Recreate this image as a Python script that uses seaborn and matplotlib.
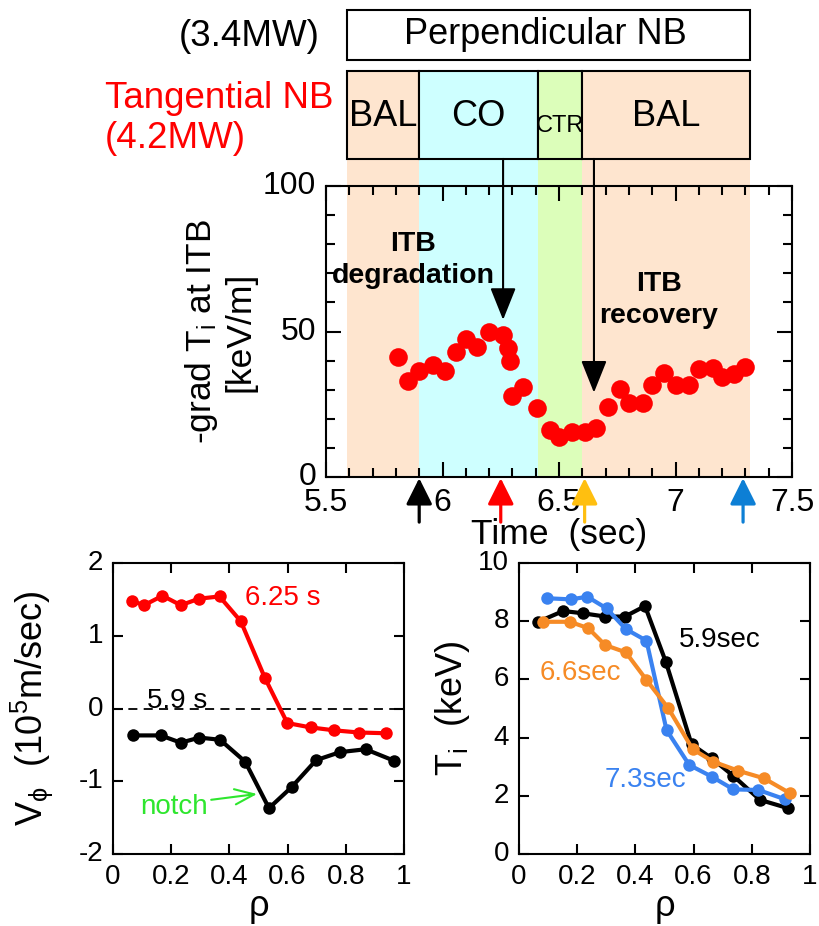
import matplotlib
matplotlib.use("Agg")
import matplotlib.pyplot as plt
import seaborn as sns
from matplotlib.patches import Rectangle
from matplotlib.ticker import MultipleLocator, FuncFormatter

# ---------------- data ----------------
# ITB gradient time trace
time_s = [5.81, 5.85, 5.90, 5.96, 6.01, 6.06, 6.10, 6.15, 6.20, 6.26, 6.28, 6.29,
          6.30, 6.345, 6.405, 6.46, 6.50, 6.555, 6.61, 6.66, 6.71, 6.76, 6.80,
          6.86, 6.90, 6.95, 7.00, 7.06, 7.10, 7.16, 7.20, 7.25, 7.30]
grad_ti = [41.2, 33.0, 36.4, 38.5, 36.4, 43.0, 47.4, 44.7, 49.8, 48.8, 44.3, 40.0,
           28.0, 30.8, 23.7, 16.2, 13.8, 15.6, 15.5, 17.0, 24.0, 30.2, 25.4,
           25.4, 31.6, 35.7, 31.6, 31.6, 37.1, 37.5, 34.4, 35.4, 37.8]

# tangential NB phases
phase_edges = [5.59, 5.90, 6.41, 6.60, 7.32]
phase_names = ["BAL", "CO", "CTR", "BAL"]
phase_colors = ["#FEE5CF", "#CEFFFF", "#DCFEBA", "#FEE5CF"]

# NB switching arrows (time, tip value)
switch_t = [6.26, 6.65]
switch_tip = [54.0, 29.0]

# profile times marked below the time axis
profile_t = [5.90, 6.25, 6.61, 7.29]
profile_colors = ["black", "#FF0000", "#FFBF10", "#0D7FD5"]

# toroidal rotation profiles
rho_v625 = [0.064, 0.107, 0.170, 0.233, 0.296, 0.366, 0.439, 0.522, 0.599, 0.679, 0.760, 0.845, 0.938]
v_625 = [1.48, 1.42, 1.55, 1.42, 1.51, 1.54, 1.20, 0.42, -0.20, -0.26, -0.30, -0.33, -0.34]
rho_v59 = [0.070, 0.164, 0.233, 0.297, 0.368, 0.454, 0.536, 0.614, 0.698, 0.780, 0.868, 0.967]
v_59 = [-0.37, -0.37, -0.47, -0.40, -0.43, -0.73, -1.37, -1.08, -0.71, -0.60, -0.56, -0.72]

# ion temperature profiles
rho_t59 = [0.066, 0.152, 0.221, 0.296, 0.364, 0.433, 0.505, 0.593, 0.662, 0.737, 0.828, 0.926]
ti_59 = [7.98, 8.35, 8.27, 8.16, 8.16, 8.52, 6.59, 3.77, 3.29, 2.68, 1.86, 1.57]
rho_t66 = [0.083, 0.175, 0.238, 0.296, 0.367, 0.438, 0.513, 0.597, 0.668, 0.754, 0.842, 0.931]
ti_66 = [7.98, 7.98, 7.76, 7.18, 6.93, 5.98, 5.01, 3.60, 3.17, 2.86, 2.60, 2.09]
rho_t73 = [0.095, 0.177, 0.235, 0.301, 0.367, 0.438, 0.507, 0.585, 0.662, 0.737, 0.823, 0.914]
ti_73 = [8.79, 8.75, 8.84, 8.44, 7.73, 7.33, 4.26, 3.06, 2.66, 2.22, 2.20, 1.88]

C_ORANGE = "#F68B26"
C_BLUE = "#3A82F0"
C_GREEN = "#2EE62E"

# ---------------- style ----------------
sns.set_theme(style="ticks")
plt.rcParams.update({
    "font.family": ["Liberation Sans", "DejaVu Sans"],
    "mathtext.fontset": "custom",
    "mathtext.rm": "Liberation Sans",
    "mathtext.it": "Liberation Sans:italic",
    "mathtext.bf": "Liberation Sans:bold",
    "axes.unicode_minus": False,
    "axes.edgecolor": "black",
    "axes.labelcolor": "black",
    "text.color": "black",
    "xtick.color": "black",
    "ytick.color": "black",
    "axes.linewidth": 1.5,
    "xtick.direction": "in",
    "ytick.direction": "in",
    "xtick.top": True,
    "ytick.right": True,
})

W, H = 820, 926
fig = plt.figure(figsize=(W / 100, H / 100), dpi=100)


def rect(l, t, r, b):
    return [l / W, 1 - b / H, (r - l) / W, (b - t) / H]


# ---------------- header (NB timing boxes) ----------------
ax_head = fig.add_axes(rect(326, 10, 792, 477))
ax_head.set_xlim(5.5, 7.5)
ax_head.set_ylim(0, 1)
ax_head.axis("off")
ax_head.set_zorder(0)

band_top = 0.681
tb_top = 0.869
pb_bot, pb_top = 0.893, 1.0
x0, x1 = phase_edges[0], phase_edges[-1]

for a, b, c in zip(phase_edges[:-1], phase_edges[1:], phase_colors):
    ax_head.add_patch(Rectangle((a, 0), b - a, band_top, facecolor=c, edgecolor="none", zorder=0))
    ax_head.add_patch(Rectangle((a, band_top), b - a, tb_top - band_top, facecolor=c,
                                edgecolor="black", lw=1.5, zorder=1, clip_on=False))
for a, b, name in zip(phase_edges[:-1], phase_edges[1:], phase_names):
    small = name == "CTR"
    ax_head.text((a + b) / 2, 0.752 if small else 0.773, name, ha="center", va="center",
                 fontsize=17 if small else 26, zorder=3)

ax_head.add_patch(Rectangle((x0, pb_bot), x1 - x0, pb_top - pb_bot, facecolor="white",
                            edgecolor="black", lw=1.5, zorder=1, clip_on=False))
ax_head.text(6.44, (pb_bot + pb_top) / 2, "Perpendicular NB", ha="center", va="center",
             fontsize=26, zorder=3)

fig.text(320 / W, 1 - 37 / H, "(3.4MW)", ha="right", va="center", fontsize=26.5)
fig.text(105 / W, 1 - 98 / H, "Tangential NB", ha="left", va="center", fontsize=26.5, color="#FF0000")
fig.text(105 / W, 1 - 138 / H, "(4.2MW)", ha="left", va="center", fontsize=26.5, color="#FF0000")

# ---------------- time trace ----------------
ax = fig.add_axes(rect(326, 186, 792, 477))
ax.set_zorder(1)
ax.set_facecolor("none")
sns.scatterplot(x=time_s, y=grad_ti, ax=ax, s=180, color="#FF0000", linewidth=0, zorder=3,
                clip_on=False)
ax.set_xlim(5.5, 7.5)
ax.set_ylim(0, 100)
ax.xaxis.set_major_locator(MultipleLocator(0.5))
ax.xaxis.set_minor_locator(MultipleLocator(0.1))
ax.yaxis.set_major_locator(MultipleLocator(50))
ax.yaxis.set_minor_locator(MultipleLocator(10))
ax.xaxis.set_major_formatter(FuncFormatter(lambda v, p: f"{v:g}"))
ax.tick_params(which="major", length=11, width=1.5, labelsize=23, pad=7)
ax.tick_params(axis="x", which="major", pad=8)
ax.tick_params(which="minor", length=6.5, width=1.5)
ax.tick_params(axis="x", which="both", top=True)
ax.tick_params(axis="y", which="both", right=True)
ax.set_xlabel("Time  (sec)", fontsize=25.5)
ax.xaxis.set_label_coords(0.5, -0.14)
ax.set_ylabel("-grad T$_\\mathregular{i}$ at ITB\n[keV/m]", fontsize=25.5, linespacing=1.1)
ax.yaxis.set_label_coords(-0.15, 0.5)

ax.text(0.187, 0.745, "ITB\ndegradation", transform=ax.transAxes, ha="center", va="center",
        fontsize=20.5, fontweight="bold", linespacing=1.32)
ax.text(0.714, 0.608, "ITB\nrecovery", transform=ax.transAxes, ha="center", va="center",
        fontsize=20.5, fontweight="bold", linespacing=1.32)

for t, tip in zip(switch_t, switch_tip):
    ax.annotate("", xy=(t, tip), xytext=(t, 1.093), textcoords=("data", "axes fraction"),
                annotation_clip=False,
                arrowprops=dict(arrowstyle="-|>,head_length=2.0,head_width=0.8", mutation_scale=10,
                                color="black", lw=1.5, shrinkA=0, shrinkB=0))

for t, c in zip(profile_t, profile_colors):
    ax.annotate("", xy=(t, -0.004), xycoords=("data", "axes fraction"),
                xytext=(t, -0.155), textcoords=("data", "axes fraction"),
                annotation_clip=False,
                arrowprops=dict(arrowstyle="-|>,head_length=1.6,head_width=0.8", mutation_scale=10,
                                color=c, lw=2.3, shrinkA=0, shrinkB=0))

# ---------------- rotation profiles ----------------
axl = fig.add_axes(rect(113, 563, 404, 854))
sns.lineplot(x=rho_v625, y=v_625, ax=axl, sort=False, estimator=None, color="#FF0000",
             lw=3, marker="o", markersize=9, markeredgewidth=0, zorder=3)
sns.lineplot(x=rho_v59, y=v_59, ax=axl, sort=False, estimator=None, color="black",
             lw=3, marker="o", markersize=9, markeredgewidth=0, zorder=3)
axl.axhline(0, color="black", lw=1.3, ls=(0, (5, 3.5)), zorder=2)
axl.set_xlim(0, 1)
axl.set_ylim(-2, 2)
axl.xaxis.set_major_locator(MultipleLocator(0.2))
axl.yaxis.set_major_locator(MultipleLocator(1))
axl.xaxis.set_major_formatter(FuncFormatter(lambda v, p: f"{v:g}"))
axl.yaxis.set_major_formatter(FuncFormatter(lambda v, p: f"{v:g}"))
axl.tick_params(length=7, width=1.5, labelsize=20, pad=7, top=True, right=True)
axl.set_xlabel("ρ", fontsize=26)
axl.set_ylabel("V$_\\mathregular{\\phi}$  (10$^\\mathregular{5}$m/sec)", fontsize=26)
axl.text(0.585, 1.52, "6.25 s", color="#FF0000", fontsize=20, ha="center", va="center")
axl.text(0.22, 0.1, "5.9 s", color="black", fontsize=20, ha="center", va="center")
axl.annotate("notch", xy=(0.495, -1.175), xytext=(0.21, -1.35), color=C_GREEN, fontsize=20,
             ha="center", va="center",
             arrowprops=dict(arrowstyle="->,head_length=1.4,head_width=0.55", mutation_scale=10,
                             color=C_GREEN, lw=1.5, shrinkA=0, shrinkB=0,
                             relpos=(1.0, 0.75)))

# ---------------- ion temperature profiles ----------------
axr = fig.add_axes(rect(519, 563, 810, 854))
sns.lineplot(x=rho_t59, y=ti_59, ax=axr, sort=False, estimator=None, color="black",
             lw=3, marker="o", markersize=9, markeredgewidth=0, zorder=3)
sns.lineplot(x=rho_t73, y=ti_73, ax=axr, sort=False, estimator=None, color=C_BLUE,
             lw=3, marker="o", markersize=9, markeredgewidth=0, zorder=3)
sns.lineplot(x=rho_t66, y=ti_66, ax=axr, sort=False, estimator=None, color=C_ORANGE,
             lw=3, marker="o", markersize=9, markeredgewidth=0, zorder=3)
axr.set_xlim(0, 1)
axr.set_ylim(0, 10)
axr.xaxis.set_major_locator(MultipleLocator(0.2))
axr.yaxis.set_major_locator(MultipleLocator(2))
axr.xaxis.set_major_formatter(FuncFormatter(lambda v, p: f"{v:g}"))
axr.tick_params(length=7, width=1.5, labelsize=20, pad=7, top=True, right=True)
axr.set_xlabel("ρ", fontsize=26)
axr.set_ylabel("T$_\\mathregular{i}$  (keV)", fontsize=26)
axr.text(0.69, 7.35, "5.9sec", color="black", fontsize=20, ha="center", va="center")
axr.text(0.21, 6.22, "6.6sec", color=C_ORANGE, fontsize=20, ha="center", va="center")
axr.text(0.436, 2.54, "7.3sec", color=C_BLUE, fontsize=20, ha="center", va="center")

for a in (axl, axr):
    a.xaxis.set_label_coords(0.5, -0.12)
axl.yaxis.set_label_coords(-0.20, 0.5)
axr.yaxis.set_label_coords(-0.16, 0.5)

# centre the y tick labels on their ticks
for a in (ax, axl, axr):
    for lab in a.get_yticklabels():
        lab.set_verticalalignment("center")

fig.savefig("out.png", dpi=100)
